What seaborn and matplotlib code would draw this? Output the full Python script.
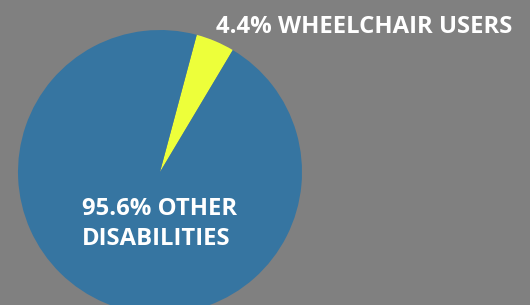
import matplotlib
matplotlib.use('Agg')
import matplotlib.pyplot as plt
import seaborn as sns

# Data
groups = ['WHEELCHAIR USERS', 'OTHER DISABILITIES']
shares = [4.4, 95.6]
colors = ['#edff3a', '#3675a1']
bg = '#808080'

sns.set_theme(style='white')
plt.rcParams['font.family'] = ['Open Sans', 'DejaVu Sans']

fig = plt.figure(figsize=(5.3, 3.05), dpi=100, facecolor=bg)
ax = fig.add_axes([0, 0, 1, 1])
ax.set_facecolor(bg)

# pie centred at (160, 172) px, radius 142 px
r = 142.0
ax.pie(shares, colors=colors, startangle=75, counterclock=False,
       radius=1.0, center=(0, 0), wedgeprops=dict(linewidth=0))
ax.set_xlim(-160 / r, (530 - 160) / r)
ax.set_ylim(-(305 - 172) / r, 172 / r)
ax.set_aspect('auto')
ax.axis('off')

W, H = 530.0, 305.0
fs = 17.2
fig.text(216 / W, 1 - 33 / H, f'{shares[0]}% {groups[0]}', color='white',
         fontsize=fs, fontweight='bold', ha='left', va='baseline')
other = groups[1].split(' ')
fig.text(82 / W, 1 - 215 / H, f'{shares[1]}% {other[0]}', color='white',
         fontsize=fs, fontweight='bold', ha='left', va='baseline')
fig.text(82 / W, 1 - 245 / H, other[1], color='white',
         fontsize=fs, fontweight='bold', ha='left', va='baseline')

fig.savefig('out.png', dpi=100, facecolor=bg)
